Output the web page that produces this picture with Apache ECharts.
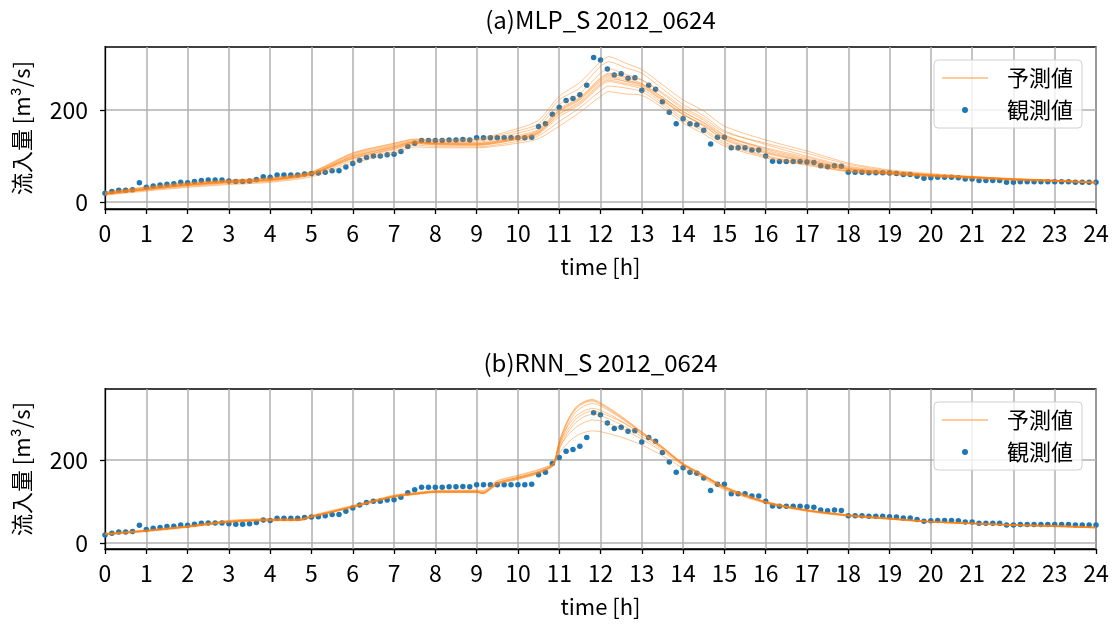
<!DOCTYPE html>
<html><head><meta charset="utf-8">
<script src="https://cdn.jsdelivr.net/npm/echarts@6/dist/echarts.min.js"></script>
<style>html,body{margin:0;padding:0;background:#fff}#c{width:1116px;height:624px}</style>
</head><body><div id="c"></div>
<script>
// ---- data ----
const titles = ['(a)MLP_S 2012_0624', '(b)RNN_S 2012_0624'];
const yTickValues = [0, 200];
// observed inflow, 10-minute samples from 0:00 to 24:00 (145 values)
const observed = [
  19,23,26,26,27,42,
  32,35,37,39,40,43,
  42,45,47,48,48,48,
  46,45,45,46,49,55,
  54,59,59,59,59,61,
  62,63,65,68,68,76,
  84,91,97,100,100,103,
  104,110,121,128,134,134,
  134,134,135,135,136,135,
  140,140,140,140,140,140,
  140,140,141,164,170,191,
  206,221,225,233,254,314,
  309,289,276,279,269,270,
  243,254,245,218,195,170,
  181,170,168,156,126,141,
  141,118,118,118,113,113,
  100,89,88,88,88,88,
  87,86,79,77,79,78,
  65,65,65,64,64,64,
  63,62,60,60,56,52,
  53,54,54,54,53,50,
  50,47,47,47,47,43,
  43,44,44,44,44,44,
  44,44,44,43,43,43,
  43
];
// MLP predictions
const mlpTimes = [0,1,2,3,4,5,6,7,7.5,8,9,10,10.5,11,11.5,12,12.2,12.6,13,13.5,14,14.5,15,16,17,18,19,20,21,22,23,24];
const mlp1  = [15,24,32,38,43,55,85,106,120,118,118,128,138,165,195,230,240,235,232,205,172,148,122,96,80,66,60,55,51,47,45,41];
const mlp2  = [16,26,34,40,45,58,90,110,124,121,120,132,144,175,205,242,252,248,240,210,178,154,126,99,82,67,61,56,52,48,45,42];
const mlp3  = [17,27,36,42,47,60,94,114,127,124,123,136,148,185,212,252,262,255,246,215,183,158,130,101,84,68,62,57,53,49,46,42];
const mlp4  = [18,29,38,44,49,62,99,119,130,127,127,141,154,196,222,262,272,262,252,222,190,165,135,106,87,70,63,58,54,49,46,42];
const mlp5  = [19,30,39,45,50,63,102,123,132,129,130,145,158,203,228,270,280,270,258,228,196,172,140,110,90,72,64,59,54,50,47,43];
const mlp6  = [20,31,40,46,51,64,104,125,134,131,133,150,164,212,236,280,290,278,266,235,202,178,146,116,94,74,65,59,55,50,47,43];
const mlp7  = [21,32,41,47,52,65,106,127,136,134,136,155,170,222,248,295,305,292,280,246,212,188,155,125,100,78,67,60,55,51,47,43];
const mlp8  = [22,33,42,48,53,66,107,128,137,136,138,160,178,230,260,305,316,302,288,255,222,198,165,135,111,85,70,62,56,51,48,44];
const mlp9  = [18,28,37,43,48,61,98,120,131,128,128,142,156,200,226,268,278,272,265,238,206,182,152,128,106,82,68,60,55,50,47,43];
const mlp10 = [17,27,36,42,47,60,95,116,128,125,124,137,150,190,215,255,265,258,250,220,190,168,142,118,97,76,65,58,54,49,46,42];
const mlp11 = [18,28,37,44,48,61,100,121,131,127,126,139,152,198,224,265,275,266,255,224,192,166,137,108,88,71,63,58,54,49,46,42];
const mlp12 = [19,29,38,45,49,62,96,117,129,126,125,138,151,192,218,258,268,263,256,228,197,173,145,113,92,73,64,58,54,50,47,43];
// RNN predictions
const rnnTimes = [0,1,2,3,4,4.7,5,6,7,7.5,8,9,9.15,9.5,10,10.5,10.85,11,11.2,11.4,11.6,11.8,12,12.5,13,13.5,14,14.5,15,16,17,18,19,20,21,22,23,24];
const rnn1 = [22,30,40,52,56,56,64,88,113,119,124,124,121,145,158,172,190,245,295,327,341,346,338,306,268,232,192,164,136,100,80,68,60,52,48,44,42,38];
const rnn2 = [21,29,39,51,55,55,63,87,112,118,123,123,120,143,156,170,188,240,290,322,337,342,334,302,266,230,190,163,135,99,79,67,59,51,47,43,41,37];
const rnn3 = [20,28,38,50,54,54,62,86,111,117,122,122,119,141,154,168,186,235,283,315,330,336,330,300,265,228,189,161,133,98,78,66,58,51,47,43,40,36];
const rnn4 = [22,30,40,53,57,57,65,89,114,120,125,126,124,148,161,175,192,238,280,305,318,324,320,294,262,228,190,162,134,98,78,66,58,50,46,43,40,37];
const rnn5 = [19,27,37,49,53,53,61,85,110,116,121,121,118,140,153,167,185,225,265,290,304,310,307,285,256,224,188,160,132,97,77,65,57,50,46,42,40,36];
const rnn6 = [23,31,41,54,58,58,66,90,115,121,126,127,126,150,163,177,192,230,258,278,290,296,294,276,250,220,186,158,130,96,77,65,57,50,46,42,39,36];
const rnn7 = [20,28,38,50,54,54,62,86,111,117,122,122,120,142,155,169,187,215,240,257,266,270,268,255,236,210,180,155,128,95,76,64,57,50,46,42,39,36];
const rnn8 = [21,29,39,51,55,55,63,87,112,118,123,124,122,145,158,172,189,232,272,298,312,318,314,292,262,228,189,161,133,98,78,66,58,51,47,43,41,37];
const rnn9 = [21,29,39,51,55,55,63,87,112,118,123,123,120,144,157,171,189,243,293,325,339,344,336,304,267,231,191,163,135,99,79,67,59,51,47,43,41,37];
const mlpLines = [mlp1,mlp2,mlp3,mlp4,mlp5,mlp6,mlp7,mlp8,mlp9,mlp10,mlp11,mlp12];
const rnnLines = [rnn1,rnn2,rnn3,rnn4,rnn5,rnn6,rnn7,rnn8,rnn9];

// ---- chart ----
const FONT = 'Noto Sans CJK JP';
const FS_TICK = 23, FS_NAME = 22, FS_LEG = 22, FS_TITLE = 24;
const BLUE = '#1f77b4', ORANGE = '#ff7f0e';
const chart = echarts.init(document.getElementById('c'), null, {renderer:'canvas'});
const obsData = observed.map((v,i)=>[i/6, v]);
const grids = [
  {left:105, right:20, top:47, height:162},
  {left:105, right:20, top:389, height:160}
];
const yRanges = [[-15,337],[-15,371]];
function xAx(i){return {
  type:'value', gridIndex:i, min:0, max:24, interval:1,
  name:'time [h]', nameLocation:'middle', nameGap:47,
  nameTextStyle:{color:'#000', fontSize:FS_NAME, fontFamily:FONT},
  axisLine:{show:true, onZero:false, lineStyle:{color:'#000', width:1.3}},
  axisTick:{show:true, length:5, lineStyle:{color:'#000', width:1.3}},
  axisLabel:{color:'#000', fontSize:FS_TICK, fontFamily:FONT, margin:13},
  splitLine:{show:true, lineStyle:{color:'#b0b0b0', width:1.5}}
};}
function yAx(i){return {
  type:'value', gridIndex:i, min:yRanges[i][0], max:yRanges[i][1],
  name:'流入量 [m³/s]', nameLocation:'middle', nameGap:72, nameRotate:90,
  nameTextStyle:{color:'#000', fontSize:FS_NAME, fontFamily:FONT},
  axisLine:{show:true, onZero:false, lineStyle:{color:'#000', width:1.3}},
  axisTick:{show:true, length:5, customValues:yTickValues, lineStyle:{color:'#000', width:1.3}},
  axisLabel:{color:'#000', fontSize:FS_TICK, fontFamily:FONT, margin:17, customValues:yTickValues},
  splitLine:{show:true, lineStyle:{color:'#b0b0b0', width:1.5}}
};}
const series = [];
[0,1].forEach(g=>{
  series.push({type:'scatter', name:'観測値', xAxisIndex:g, yAxisIndex:g, data:obsData,
    symbolSize:5.5, itemStyle:{color:BLUE, opacity:1}, z:2, silent:true});
  const times = g===0 ? mlpTimes : rnnTimes;
  const lines = g===0 ? mlpLines : rnnLines;
  lines.forEach(arr=>{
    series.push({type:'line', name:'予測値', xAxisIndex:g, yAxisIndex:g,
      data: arr.map((v,k)=>[times[k], v]), showSymbol:false, symbol:'none',
      smooth:0.25, lineStyle:{color:ORANGE, width:1, opacity:0.45}, itemStyle:{color:ORANGE},
      z:3, silent:true});
  });
});
function legend(top){return {
  left:934, top:top, orient:'vertical', itemWidth:46, itemHeight:6, itemGap:10,
  padding:[7,9,7,8], backgroundColor:'rgba(255,255,255,0.8)', borderColor:'#d0d0d0', borderWidth:1, borderRadius:4,
  textStyle:{color:'#000', fontSize:FS_LEG, fontFamily:FONT, padding:[0,0,0,14]},
  data:[
    {name:'予測値', icon:'path://M0,0L46,0L46,1.4L0,1.4Z', itemStyle:{color:ORANGE, opacity:0.55}},
    {name:'観測値', icon:'circle', itemStyle:{color:BLUE, opacity:1}}
  ], selectedMode:false
};}
chart.setOption({
  animation:false,
  backgroundColor:'#fff',
  grid: grids.map(g=>Object.assign({show:true, borderColor:'#000', borderWidth:1.3, backgroundColor:'transparent'}, g)),
  xAxis:[xAx(0), xAx(1)],
  yAxis:[yAx(0), yAx(1)],
  legend:[legend(60), legend(402)],
  graphic:[
    {type:'text', x:600.5, y:20, style:{text:titles[0], fill:'#000', font:FS_TITLE+'px "'+FONT+'"', align:'center', verticalAlign:'middle'}},
    {type:'text', x:600.5, y:363, style:{text:titles[1], fill:'#000', font:FS_TITLE+'px "'+FONT+'"', align:'center', verticalAlign:'middle'}}
  ],
  series: series
});
</script></body></html>
